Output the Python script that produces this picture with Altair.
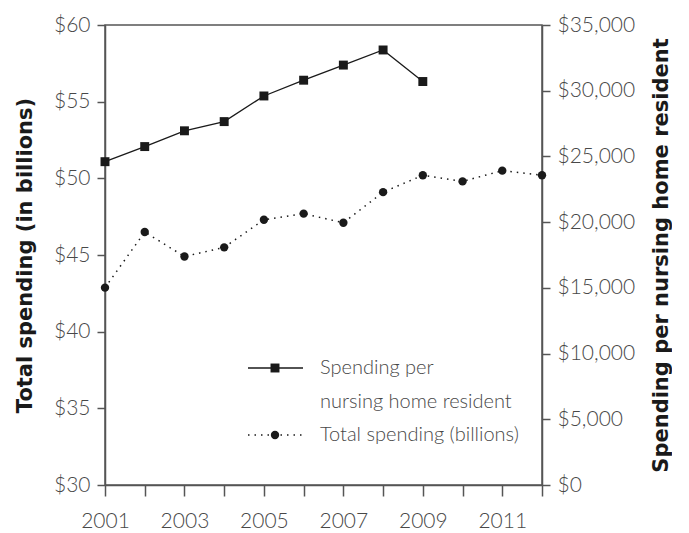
import altair as alt
import pandas as pd

years = list(range(2001, 2013))
total_spending = [42.87, 46.5, 44.9, 45.5, 47.3, 47.7, 47.1, 49.1, 50.2, 49.8, 50.5, 50.2]
res_years = list(range(2001, 2010))
per_resident = [24600, 25750, 26950, 27650, 29600, 30800, 31950, 33100, 30700]

left_ticks = [30, 35, 40, 45, 50, 55, 60]
right_ticks = [0, 5000, 10000, 15000, 20000, 25000, 30000, 35000]

df_total = pd.DataFrame({"year": years, "total": total_spending})
df_res = pd.DataFrame({"year": res_years, "per": per_resident})

INK = "#1a1a1a"
AX = "#555555"
LBL = "#484848"
FONT = "Lato"
FW = 300
TFONT = "DejaVu Sans"

xenc = alt.X(
    "year:Q",
    scale=alt.Scale(domain=[2001, 2012], nice=False, zero=False),
    axis=alt.Axis(
        values=years, format="d", title=None,
        labelExpr="datum.value % 2 == 1 ? datum.label : ''",
        tickSize=11, labelPadding=14, grid=False, labelFlush=False, labelOverlap=False,
    ),
)

yleft = alt.Y(
    "total:Q",
    scale=alt.Scale(domain=[30, 60], nice=False, zero=False),
    axis=alt.Axis(
        values=left_ticks, format="$d", title="Total spending (in billions)",
        orient="left", tickSize=8, labelPadding=7, grid=False, titlePadding=18,
    ),
)

yright = alt.Y(
    "per:Q",
    scale=alt.Scale(domain=[0, 35000], nice=False),
    axis=alt.Axis(
        values=right_ticks, format="$,d", title="Spending per nursing home resident",
        orient="right", tickSize=8, labelPadding=7, grid=False, titlePadding=16,
        titleAngle=270, titleBaseline="top",
    ),
)

base_t = alt.Chart(df_total)
t_line = base_t.mark_line(color=INK, strokeWidth=1.5, strokeDash=[1.5, 5]).encode(x=xenc, y=yleft)
t_pts = base_t.mark_point(shape="circle", filled=True, color=INK, size=70, opacity=1).encode(x=xenc, y=yleft)

one = pd.DataFrame({"k": [0]})
leg_c = alt.Chart(one)
leg1_line = leg_c.mark_rule(color=INK, strokeWidth=1.3).encode(x=alt.value(143), x2=alt.value(198), y=alt.value(343))
leg1_pt = leg_c.mark_point(shape="square", filled=True, color=INK, size=80, opacity=1).encode(x=alt.value(170), y=alt.value(343))
leg2_line = leg_c.mark_rule(color=INK, strokeWidth=1.5, strokeDash=[1.5, 5]).encode(x=alt.value(143), x2=alt.value(198), y=alt.value(410))
leg2_pt = leg_c.mark_point(shape="circle", filled=True, color=INK, size=70, opacity=1).encode(x=alt.value(170), y=alt.value(410))
txt_kw = dict(align="left", baseline="middle", font=FONT, fontSize=20, fontWeight=FW, color=LBL)
leg_t1 = leg_c.mark_text(**txt_kw).encode(x=alt.value(215), y=alt.value(343), text=alt.value("Spending per"))
leg_t2 = leg_c.mark_text(**txt_kw).encode(x=alt.value(215), y=alt.value(377), text=alt.value("nursing home resident"))
leg_t3 = leg_c.mark_text(**txt_kw).encode(x=alt.value(215), y=alt.value(410), text=alt.value("Total spending (billions)"))

left = alt.layer(t_line, t_pts, leg1_line, leg1_pt, leg2_line, leg2_pt, leg_t1, leg_t2, leg_t3)

base_r = alt.Chart(df_res)
r_line = base_r.mark_line(color=INK, strokeWidth=1.3).encode(x=xenc, y=yright)
r_pts = base_r.mark_point(shape="square", filled=True, color=INK, size=80, opacity=1).encode(x=xenc, y=yright)
right = alt.layer(r_line, r_pts)

chart = (
    alt.layer(left, right)
    .resolve_scale(y="independent")
    .properties(
        width=437, height=460,
        autosize=alt.AutoSizeParams(type="none"),
        padding={"left": 97, "top": 17, "right": 130, "bottom": 46},
    )
    .configure_view(stroke=AX, strokeWidth=1.5)
    .configure_axis(
        domainColor=AX, domainWidth=1.5, tickColor=AX, tickWidth=1.5,
        labelFont=FONT, labelFontWeight=FW, labelFontSize=21, labelColor=LBL,
        titleFont=TFONT, titleFontWeight="bold", titleFontSize=21, titleColor=INK,
    )
)

chart.save("out.html", embed_options={"renderer": "svg", "actions": False})
